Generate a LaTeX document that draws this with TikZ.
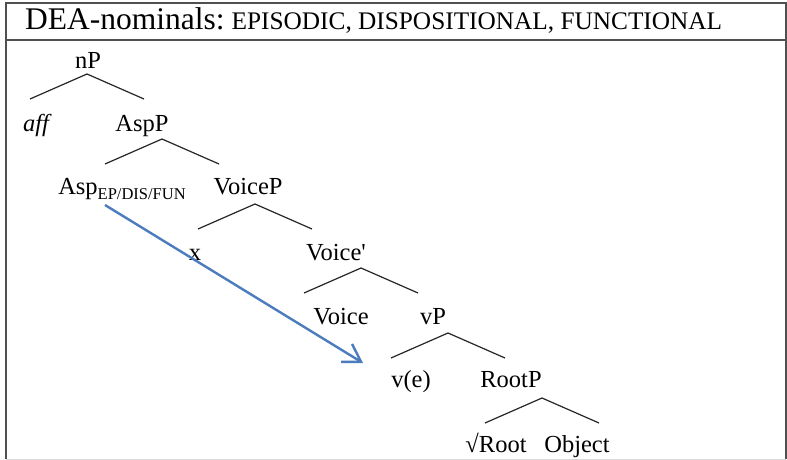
\documentclass[tikz,border=0pt]{standalone}
\usepackage{fontspec}
\setmainfont{Liberation Serif}
\newfontfamily\treefont{Liberation Serif}
\usetikzlibrary{arrows.meta}
\definecolor{frame}{RGB}{80,80,80}
\definecolor{movblue}{RGB}{74,124,190}
\tikzset{
  lab/.style={anchor=base,inner sep=0pt,font=\treefont\fontsize{24.5}{27}\selectfont},
  branch/.style={line width=1.2pt,black!85},
  mvt/.style={movblue,line width=2.4pt,-{Straight Barb[length=17pt,width=21pt,line width=2.4pt]}}
}
\newcommand{\roof}[3]{\draw[branch] ([shift={(#2,#3)}]#1.base) +(-57,25) -- +(0,0) -- +(57,25);}

\begin{document}
\begin{tikzpicture}[x=1pt,y=-1pt]
\useasboundingbox (0,0) rectangle (787,460);
\fill[white] (0,0) rectangle (787,460);
\draw[black!15,line width=1pt] (6,459) -- (786,459);
\draw[frame,line width=2pt] (6,459) -- (6,3) -- (786,3) -- (786,459);
\draw[frame,line width=2pt] (6,40.5) -- (786,40.5);

\node[anchor=base west,inner sep=0pt] (title) at (25,30)
  {\fontsize{31.5}{33}\selectfont DEA-nominals:\hspace{7pt}{\fontsize{25.3}{28}\selectfont EPISODIC, DISPOSITIONAL, FUNCTIONAL}};

% the tree
\node[lab] (np) at (88,68) {nP};
\node[lab] (aff) at (36,131) {\itshape aff};
\node[lab] (aspp) at (142,131) {AspP};
\node[lab] (asp) at (122,194) {Asp\raisebox{-5pt}{\fontsize{16.5}{18}\selectfont EP/DIS/FUN}};
\node[lab] (voicep) at (248,194) {VoiceP};
\node[lab] (x) at (195,260) {x};
\node[lab] (voicebar) at (336,260) {Voice'};
\node[lab] (voice) at (341,324) {Voice};
\node[lab] (vp) at (433,324) {vP};
\node[lab] (ve) at (411,387) {v(e)};
\node[lab] (rootp) at (511,387) {RootP};
\node[lab] (root) at (496,452) {√Root};
\node[lab] (object) at (577,452) {Object};

\roof{np}{-1}{6}
\roof{aspp}{20}{8}
\roof{voicep}{7}{10}
\roof{voicebar}{25}{8}
\roof{vp}{15}{9}
\roof{rootp}{31}{11}

\draw[mvt] ([shift={(-17,11)}]asp.base) -- ([shift={(-48,-24)}]ve.base);

\end{tikzpicture}
\end{document}
